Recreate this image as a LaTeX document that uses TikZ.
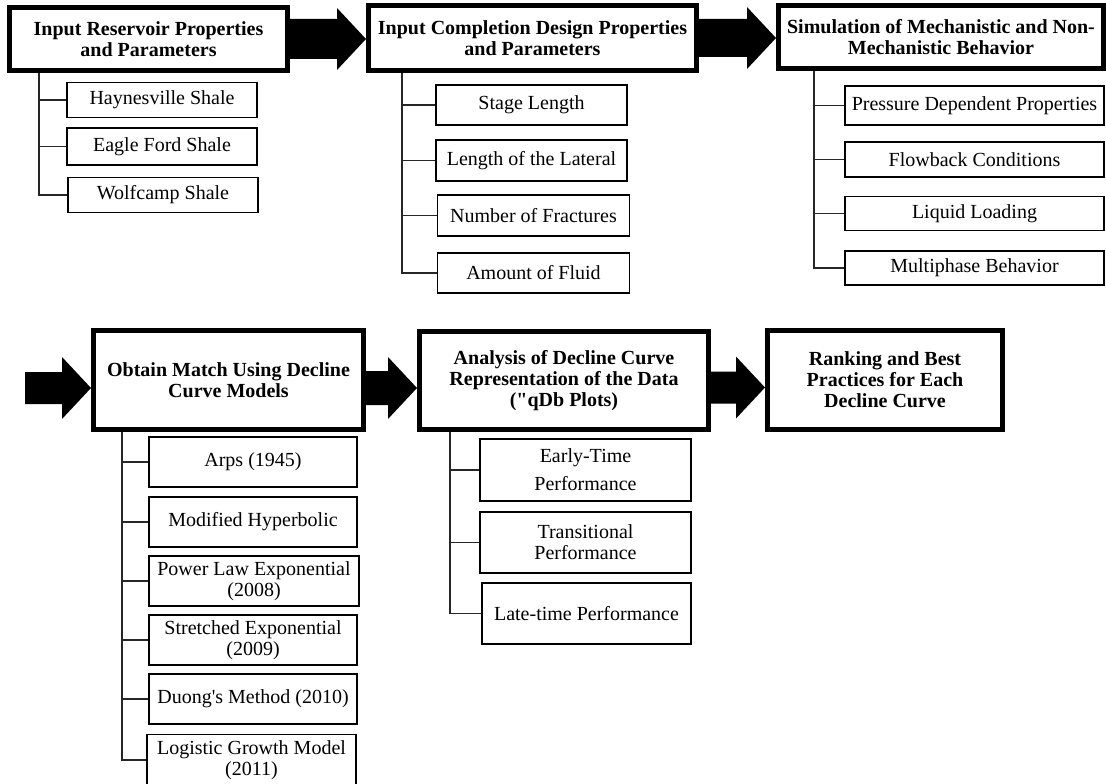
\documentclass[tikz,border=0pt]{standalone}
\usepackage{fontspec}
\setmainfont{Liberation Serif}[Ligatures=TeXOff]
\usetikzlibrary{calc}

% fat block arrow from #2 to the tip #3, shaft half height #1
\newcommand{\bigarrow}[3][20pt]{%
  \fill let \p1=(#2), \p2=(#3) in
    (\x1,\y1+#1) -- (\x2-29pt,\y1+#1) -- (\x2-29pt,\y1+31pt) -- (\x2,\y1)
    -- (\x2-29pt,\y1-31pt) -- (\x2-29pt,\y1-#1) -- (\x1,\y1-#1) -- cycle;}

\begin{document}
\begin{tikzpicture}[x=1pt, y=-1pt,
		stage/.style={draw, line width=5pt, inner sep=0pt, align=center,
			font=\bfseries\fontsize{20}{21}\selectfont},
		item/.style={draw, line width=1.6pt, inner sep=0pt, align=center,
			font=\fontsize{20}{21}\selectfont},
		link/.style={line width=1.6pt, black!85}]
		\useasboundingbox (0,0) rectangle (1106,784);
		
		% Top row of stages
		\node[stage, minimum width=278pt, minimum height=63pt] (res) at (148.5,39) {Input Reservoir Properties\\and Parameters};
		\node[stage, minimum width=328pt, minimum height=65pt] (comp) at (532.5,38) {Input Completion Design Properties\\and Parameters};
		\node[stage, minimum width=325pt, minimum height=63pt] (sim) at (941,37) {Simulation of Mechanistic and Non-\\Mechanistic Behavior};
		
		% Bottom row of stages
		\node[stage, minimum width=270pt, minimum height=99pt] (dca) at (228.5,380) {Obtain Match Using Decline\\Curve Models};
		\node[stage, minimum width=289pt, minimum height=98pt] (qdb) at (564,380.5) {Analysis of Decline Curve\\Representation of the Data\\("qDb Plots)};
		\node[stage, minimum width=235pt, minimum height=99pt] (rank) at (885,380) {Ranking and Best\\Practices for Each\\Decline Curve};
		
		% Reservoirs
		\node[item, minimum width=190pt, minimum height=35pt] (hay) at (162,100) {Haynesville Shale};
		\node[item, minimum width=190pt, minimum height=37pt] (eagle) at (162,146.5) {Eagle Ford Shale};
		\node[item, minimum width=190pt, minimum height=35pt] (wolf) at (163,195) {Wolfcamp Shale};
		
		% Completion design
		\node[item, minimum width=191pt, minimum height=40pt] (stage) at (531.5,105) {Stage Length};
		\node[item, minimum width=191pt, minimum height=41pt] (lateral) at (531.5,160.5) {Length of the Lateral};
		\node[item, minimum width=192pt, minimum height=41pt] (frac) at (533.5,215.5) {Number of Fractures};
		\node[item, minimum width=192pt, minimum height=40pt] (fluid) at (533.5,273) {Amount of Fluid};
		
		% Simulated behavior
		\node[item, minimum width=259pt, minimum height=39pt] (press) at (974.5,105.5) {Pressure Dependent Properties};
		\node[item, minimum width=259pt, minimum height=35pt] (flow) at (974.5,159.5) {Flowback Conditions};
		\node[item, minimum width=259pt, minimum height=34pt] (liquid) at (974.5,213.5) {Liquid Loading};
		\node[item, minimum width=259pt, minimum height=34pt] (multi) at (974.5,268) {Multiphase Behavior};
		
		% Decline curve models
		\node[item, minimum width=208pt, minimum height=50pt] (arps) at (253,462) {Arps (1945)};
		\node[item, minimum width=208pt, minimum height=50pt] (hyper) at (253,522) {Modified Hyperbolic};
		\node[item, minimum width=210pt, minimum height=50pt] (plaw) at (254,581) {Power Law Exponential\\(2008)};
		\node[item, minimum width=208pt, minimum height=50pt] (sexp) at (253,640) {Stretched Exponential\\(2009)};
		\node[item, minimum width=208pt, minimum height=50pt] (duong) at (253,699) {Duong's Method (2010)};
		\node[item, minimum width=209pt, minimum height=51pt] (logis) at (251.5,760) {Logistic Growth Model\\(2011)};
		
		% qDb plot periods
		\node[item, minimum width=211pt, minimum height=62pt] (early) at (585.5,470) {Early-Time\\[7pt]Performance};
		\node[item, minimum width=211pt, minimum height=61pt] (trans) at (585.5,542.5) {Transitional\\Performance};
		\node[item, minimum width=209pt, minimum height=61pt] (late) at (586.5,613.5) {Late-time Performance};
		
		% Tree lines below each stage
		\coordinate (resbus) at (39,73);
		\coordinate (compbus) at (402,73);
		\coordinate (simbus) at (814,71);
		\coordinate (dcabus) at (122,432);
		\coordinate (qdbbus) at (450,432);
		\draw[link] (resbus) |- (wolf.west);
		\draw[link] (compbus) |- (fluid.west);
		\draw[link] (simbus) |- (multi.west);
		\draw[link] (dcabus) |- (logis.west);
		\draw[link] (qdbbus) |- (late.west);
		\foreach \k in {hay,eagle} \draw[link] (resbus |- \k.west) -- (\k.west);
		\foreach \k in {stage,lateral,frac} \draw[link] (compbus |- \k.west) -- (\k.west);
		\foreach \k in {press,flow,liquid} \draw[link] (simbus |- \k.west) -- (\k.west);
		\foreach \k in {arps,hyper,plaw,sexp,duong} \draw[link] (dcabus |- \k.west) -- (\k.west);
		\foreach \k in {early,trans} \draw[link] (qdbbus |- \k.west) -- (\k.west);
		
		% Block arrows between stages
		\coordinate (entry) at (25,388);
		\bigarrow{res.east}{comp.west}
		\bigarrow[19pt]{comp.east}{sim.west}
		\bigarrow[16pt]{entry}{$(dca.west)+(0,8)$}
		\bigarrow[17pt]{$(dca.east)+(0,8)$}{$(qdb.west)+(0,8)$}
		\bigarrow[16pt]{$(qdb.east)+(0,7)$}{$(rank.west)+(0,7)$}
	\end{tikzpicture}
\end{document}
